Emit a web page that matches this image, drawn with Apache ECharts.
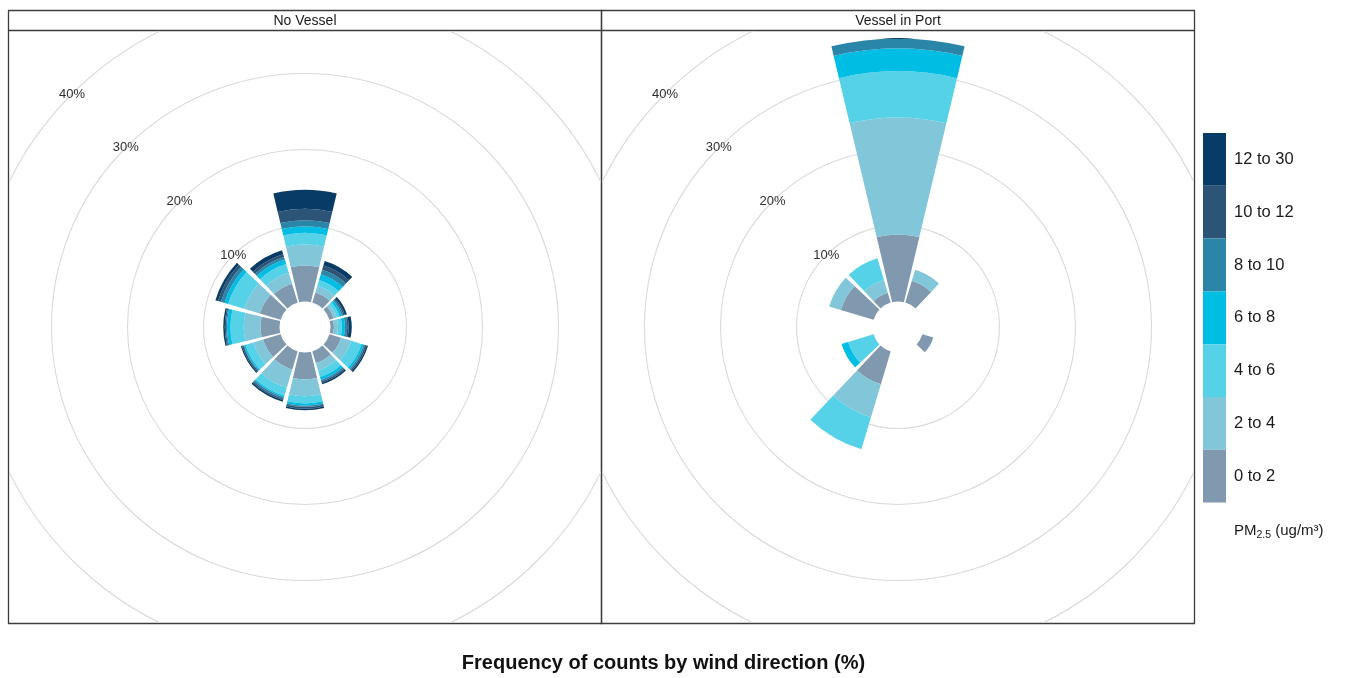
<!DOCTYPE html>
<html>
<head>
<meta charset="utf-8">
<script src="https://cdn.jsdelivr.net/npm/echarts@6/dist/echarts.min.js"></script>
<style>
html,body{margin:0;padding:0;background:#fff;}
#main{position:absolute;left:0;top:0;width:1354px;height:678px;}
#p1{position:absolute;left:9px;top:31px;width:592px;height:592px;overflow:hidden;}
#p2{position:absolute;left:602px;top:31px;width:592px;height:592px;overflow:hidden;}
</style>
</head>
<body>
<div id="main"></div>
<div id="p1"></div>
<div id="p2"></div>
<script>
// ---------------- DATA ----------------
const directions = [0, 30, 60, 90, 120, 150, 180, 210, 240, 270, 300, 330];
const intervals = ['0 to 2', '2 to 4', '4 to 6', '6 to 8', '8 to 10', '10 to 12', '12 to 30'];
const panelNames = ['No Vessel', 'Vessel in Port'];
const radiusTicks = [0, 10, 20, 30, 40];
const chartTitle = 'Frequency of counts by wind direction (%)';

// No Vessel: frequency (%) per PM2.5 interval, by wind direction 0..330
const noVessel_0to2   = [4.74, 1.4, 0.6, 0.46, 1.6, 1.6, 3.55, 2.5, 2.4, 2.5, 2.85, 2.6];
const noVessel_2to4   = [2.76, 0.9, 0.4, 0.54, 1.4, 1.0, 2.2, 2.5, 1.35, 2.2, 2.15, 1.5];
const noVessel_4to6   = [1.54, 0.8, 0.4, 0.5, 1.4, 0.9, 0.95, 1.1, 1.05, 1.75, 2.2, 1.2];
const noVessel_6to8   = [0.86, 0.8, 0.3, 0.4, 0.3, 0.4, 0.3, 0.2, 0.2, 0.45, 0.5, 0.6];
const noVessel_8to10  = [0.8, 0.6, 0.2, 0.3, 0.2, 0.2, 0.15, 0.2, 0.1, 0.15, 0.5, 0.35];
const noVessel_10to12 = [1.5, 0.6, 0.2, 0.2, 0.2, 0.2, 0.25, 0.2, 0.2, 0.15, 0.4, 0.4];
const noVessel_12to30 = [2.5, 0.6, 0.3, 0.4, 0.2, 0.2, 0.2, 0.2, 0.15, 0.2, 0.35, 0.55];

// Vessel in Port
const inPort_0to2   = [8.8, 3.0, 0, 0, 1.5, 0, 0, 4.5, 0, 0, 4.5, 1.35];
const inPort_2to4   = [15.4, 1.5, 0, 0, 0, 0, 0, 4.55, 0, 0, 1.6, 1.75];
const inPort_4to6   = [6.1, 0, 0, 0, 0, 0, 0, 4.4, 3.5, 0, 0, 3.0];
const inPort_6to8   = [3.0, 0, 0, 0, 0, 0, 0, 0, 0.9, 0, 0, 0];
const inPort_8to10  = [1.3, 0, 0, 0, 0, 0, 0, 0, 0, 0, 0, 0];
const inPort_10to12 = [0, 0, 0, 0, 0, 0, 0, 0, 0, 0, 0, 0];
const inPort_12to30 = [0, 0, 0, 0, 0, 0, 0, 0, 0, 0, 0, 0];

// ---------------- STYLE ----------------
const colors = ['#8099ae', '#82c6d9', '#55d2e8', '#00bde3', '#2a86a8', '#2c5476', '#083b65'];
const FONT = 'Liberation Sans, Arial, sans-serif';

const noVesselSets = [noVessel_0to2, noVessel_2to4, noVessel_4to6, noVessel_6to8, noVessel_8to10, noVessel_10to12, noVessel_12to30];
const inPortSets = [inPort_0to2, inPort_2to4, inPort_4to6, inPort_6to8, inPort_8to10, inPort_10to12, inPort_12to30];

// angle axis starts at NW (135deg) so the radius labels sit on the NW diagonal;
// with 30deg sectors the first category is then centred on 330deg.
const order = [11, 0, 1, 2, 3, 4, 5, 6, 7, 8, 9, 10];
const reorder = arr => order.map(i => arr[i]);

function panelOption(sets) {
  return {
    animation: false,
    polar: { center: ['50%', '50%'], radius: [25.5, 329.5] },
    angleAxis: {
      type: 'category',
      data: reorder(directions).map(String),
      startAngle: 135,
      clockwise: true,
      axisLine: { show: false }, axisTick: { show: false },
      axisLabel: { show: false }, splitLine: { show: false }
    },
    radiusAxis: {
      type: 'value', min: radiusTicks[0], max: radiusTicks[radiusTicks.length - 1], interval: 10,
      axisLine: { show: false }, axisTick: { show: false },
      axisLabel: {
        formatter: '{value}%', showMinLabel: false, margin: 0,
        align: 'center', verticalAlign: 'middle',
        fontSize: 13, color: '#2e2e2e', fontFamily: FONT
      },
      splitLine: { show: true, lineStyle: { color: ['rgba(0,0,0,0)', '#dadada', '#dadada', '#dadada', '#dadada'], width: 1.1 } }
    },
    series: intervals.map((name, k) => ({
      type: 'bar', coordinateSystem: 'polar', name: name, stack: 'freq',
      data: reorder(sets[k]),
      barCategoryGap: '11%',
      itemStyle: { color: colors[k] },
      silent: true
    }))
  };
}

const c1 = echarts.init(document.getElementById('p1'));
c1.setOption(panelOption(noVesselSets));
const c2 = echarts.init(document.getElementById('p2'));
c2.setOption(panelOption(inPortSets));

const main = echarts.init(document.getElementById('main'));
const borderColor = '#3c3c3c';
main.setOption({
  animation: false,
  grid: { left: -50, top: -50, width: 10, height: 10, show: false },
  xAxis: { type: 'category', show: false, data: [] },
  yAxis: { type: 'value', show: false },
  legend: {
    orient: 'vertical', left: 1203, top: 133, padding: 0,
    itemWidth: 23, itemHeight: 52.8, itemGap: 0, icon: 'rect',
    selectedMode: false,
    data: intervals.slice().reverse(),
    textStyle: { fontSize: 16.5, color: '#1a1a1a', fontFamily: FONT, padding: [3, 0, 0, 3] }
  },
  series: intervals.map((name, k) => ({ type: 'bar', name: name, data: [], itemStyle: { color: colors[k] } })),
  graphic: [
    { type: 'rect', shape: { x: 8.5, y: 10.5, width: 593, height: 613 }, style: { fill: 'none', stroke: borderColor, lineWidth: 1.3 } },
    { type: 'rect', shape: { x: 601.5, y: 10.5, width: 593, height: 613 }, style: { fill: 'none', stroke: borderColor, lineWidth: 1.3 } },
    { type: 'line', shape: { x1: 8.5, y1: 30.5, x2: 1194.5, y2: 30.5 }, style: { stroke: borderColor, lineWidth: 1.3 } },
    { type: 'text', x: 305, y: 21, style: { text: panelNames[0], align: 'center', verticalAlign: 'middle', textAlign: 'center', textVerticalAlign: 'middle', fontSize: 14, fontFamily: FONT, fill: '#1a1a1a' } },
    { type: 'text', x: 898, y: 21, style: { text: panelNames[1], align: 'center', verticalAlign: 'middle', textAlign: 'center', textVerticalAlign: 'middle', fontSize: 14, fontFamily: FONT, fill: '#1a1a1a' } },
    { type: 'text', x: 663.5, y: 663, style: { text: chartTitle, align: 'center', verticalAlign: 'middle', textAlign: 'center', textVerticalAlign: 'middle', fontSize: 20, fontWeight: 'bold', fontFamily: FONT, fill: '#111' } },
    { type: 'text', x: 1234, y: 523, style: {
        text: '{n|PM}{s|2.5}{n| (ug/m³)}',
        rich: {
          n: { fontSize: 15, fontFamily: FONT, fill: '#1a1a1a', verticalAlign: 'top', lineHeight: 16 },
          s: { fontSize: 10.5, fontFamily: FONT, fill: '#1a1a1a', verticalAlign: 'top', lineHeight: 12, padding: [7, 0, 0, 0] }
        }
    } }
  ]
});
</script>
</body>
</html>
